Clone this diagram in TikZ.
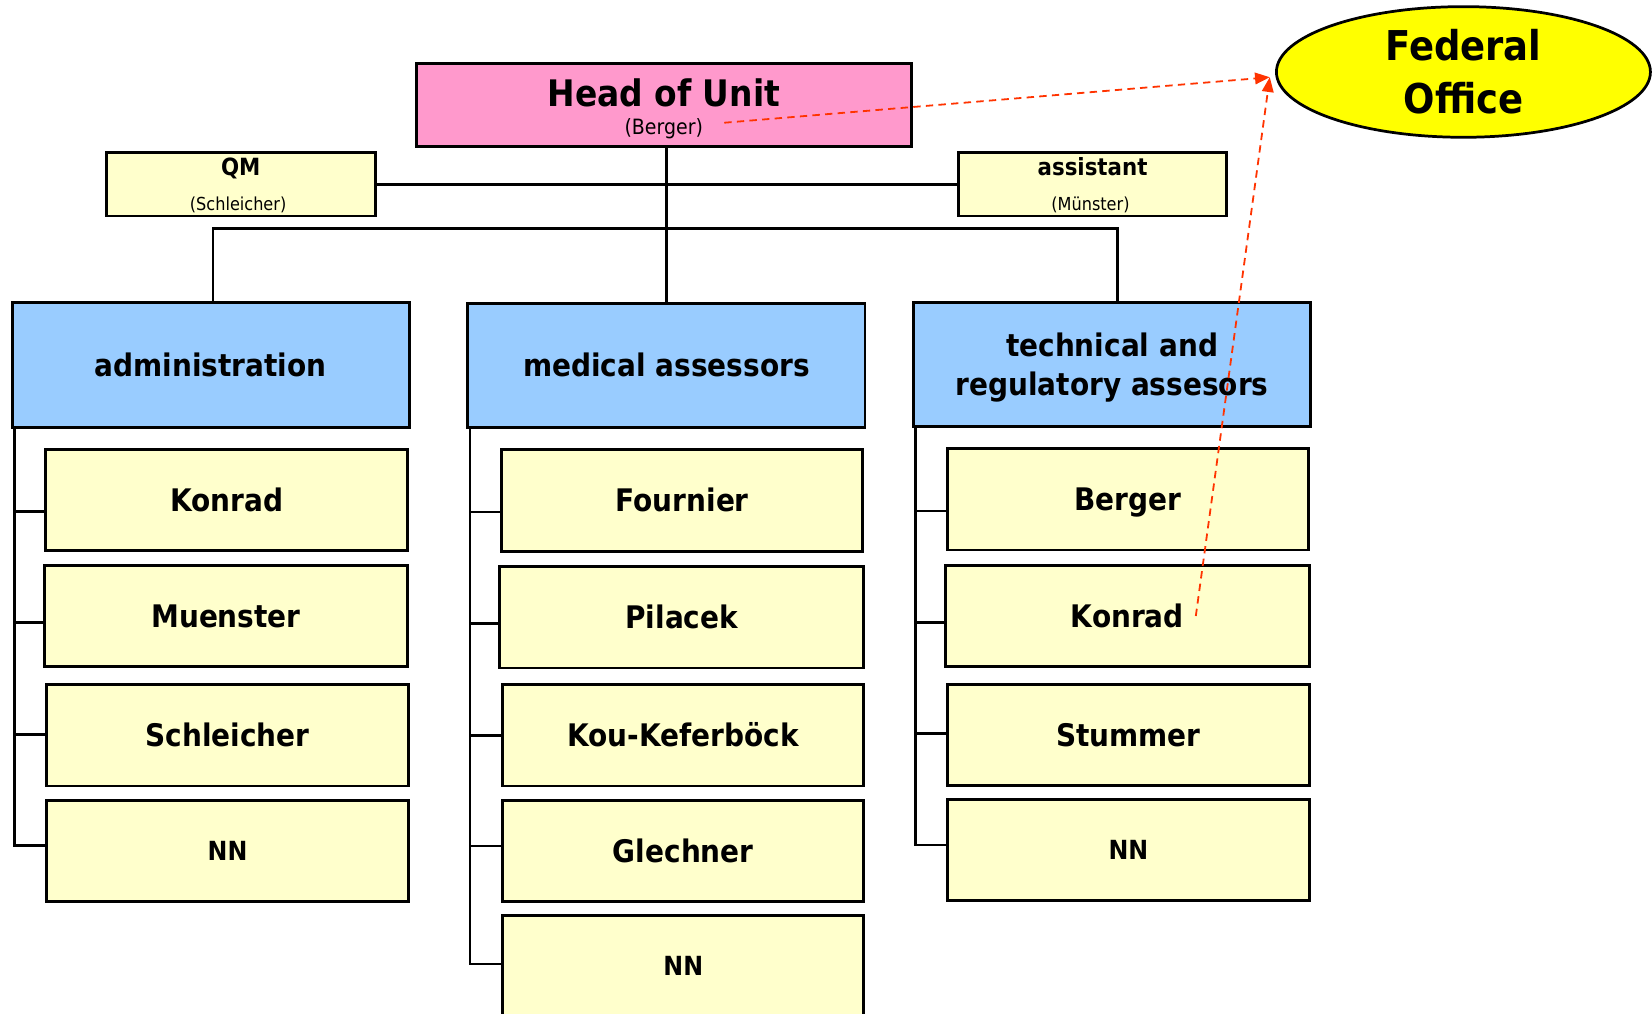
\documentclass[tikz,border=0pt]{standalone}
\usepackage{fontspec}
\setmainfont{DejaVu Sans}[FakeStretch=0.9]
\usetikzlibrary{arrows.meta,shapes.geometric}

\definecolor{headpink}{HTML}{FF99CC}
\definecolor{unitblue}{HTML}{99CCFF}
\definecolor{staffyellow}{HTML}{FFFFCC}
\definecolor{officeyellow}{HTML}{FFFF00}
\definecolor{linkred}{HTML}{FF3300}

\begin{document}
\begin{tikzpicture}[x=1pt,y=-1pt,
  box/.style={draw=black,line width=2.8pt,inner sep=0pt,outer sep=0pt},
  headbox/.style={box,fill=headpink,minimum width=470pt,minimum height=79pt},
  staffbox/.style={box,fill=staffyellow,minimum width=255pt,minimum height=60pt},
  unitbox/.style={box,fill=unitblue,minimum width=377pt,minimum height=118pt,align=center,
    font=\fontsize{29.5}{37}\selectfont\bfseries,text height=21.5pt,text depth=0pt},
  person/.style={box,fill=staffyellow,minimum width=343pt,minimum height=96pt,
    font=\fontsize{29.5}{34}\selectfont\bfseries,text height=21.5pt,text depth=0pt},
  vacant/.style={person,font=\fontsize{25}{30}\selectfont\bfseries,text height=18.3pt},
  office/.style={ellipse,draw=black,line width=2.6pt,fill=officeyellow,inner sep=0pt,
    minimum width=355pt,minimum height=124pt,align=center,
    font=\fontsize{39}{50.5}\selectfont\bfseries,text height=79pt,text depth=0pt},
  txt/.style={inner sep=0pt,anchor=base},
  link/.style={line width=2.5pt,draw=black},
  feedback/.style={draw=linkred,line width=1.7pt,dash pattern=on 7pt off 5pt,
    -{Triangle[length=14pt,width=11pt,fill=linkred]}}
]
\useasboundingbox (0,0) rectangle (1568,962);
\clip (0,0) rectangle (1568,962);

% top of the chart
\node[headbox] (head) at (630,99.5) {};
\node[txt,font=\fontsize{34.7}{40}\selectfont\bfseries] (headtitle) at (630,101) {Head of Unit};
\node[txt,font=\fontsize{20}{24}\selectfont] (headname) at (630,128) {(Berger)};

\node[office] (fed) at (1389,68.3) {Federal\\Office};

% staff positions
\node[staffbox] (qm) at (228.5,175) {};
\node[txt,font=\fontsize{22.5}{26}\selectfont\bfseries] (qmtitle) at (228.5,167) {QM};
\node[txt,font=\fontsize{17}{20}\selectfont] (qmname) at (226,200) {(Schleicher)};

\node[staffbox] (asst) at (1037,175) {};
\node[txt,font=\fontsize{22.5}{26}\selectfont\bfseries] (assttitle) at (1037,167) {assistant};
\node[txt,font=\fontsize{17}{20}\selectfont] (asstname) at (1035,200) {(Münster)};

% departments
\node[unitbox] (adm) at (200,346.5) {administration};
\node[unitbox] (med) at (632.5,347) {medical assessors};
\node[unitbox,text height=58.5pt] (tech) at (1055.5,346) {technical and\\regulatory assesors};

% administration
\node[person] (a1) at (215,474.5) {Konrad};
\node[person,minimum width=345pt] (a2) at (214.5,585) {Muenster};
\node[person] (a3) at (216,698) {Schleicher};
\node[vacant] (a4) at (216,807.5) {NN};

% medical assessors
\node[person] (b1) at (647.5,475) {Fournier};
\node[person,minimum width=346pt] (b2) at (647,586) {Pilacek};
\node[person] (b3) at (648.5,698) {Kou-Keferböck};
\node[person] (b4) at (648.5,808) {Glechner};
\node[vacant] (b5) at (648.5,917) {NN};

% technical and regulatory assessors
\node[person] (c1) at (1070.5,474) {Berger};
\node[person,minimum width=346pt] (c2) at (1070,584.7) {Konrad};
\node[person] (c3) at (1071,697.4) {Stummer};
\node[vacant] (c4) at (1071,807) {NN};

% reporting lines
\draw[link] (med.north |- head.south) -- (med.north);
\draw[link] (qm.east) -- (asst.west);
\coordinate (bus) at (632,217);
\draw[link] ([xshift=2]adm.north) |- (bus) -| ([xshift=5]tech.north);

\coordinate (s1) at ([xshift=2]adm.south west);
\coordinate (s2) at ([xshift=2]med.south west);
\coordinate (s3) at ([xshift=2]tech.south west);
\foreach \b/\d in {a1/-11,a2/-6,a3/1,a4/5}
  \draw[link] (s1) |- ([yshift=\d]\b.west);
\foreach \b/\d in {b1/-11,b2/-6,b3/0,b4/5,b5/2}
  \draw[link] (s2) |- ([yshift=\d]\b.west);
\foreach \b/\d in {c1/-11,c2/-6,c3/1,c4/5}
  \draw[link] (s3) |- ([yshift=\d]\b.west);

% links to the Federal Office
\coordinate (headtail) at ([xshift=20,yshift=6]headname.east);
\coordinate (c2tail) at ([xshift=65]c2.center);
\coordinate (fedtip) at ([xshift=-5,yshift=-5]fed.west);
\draw[feedback] (headtail) -- (fedtip);
\draw[feedback] (c2tail) -- (fedtip);
\end{tikzpicture}
\end{document}
